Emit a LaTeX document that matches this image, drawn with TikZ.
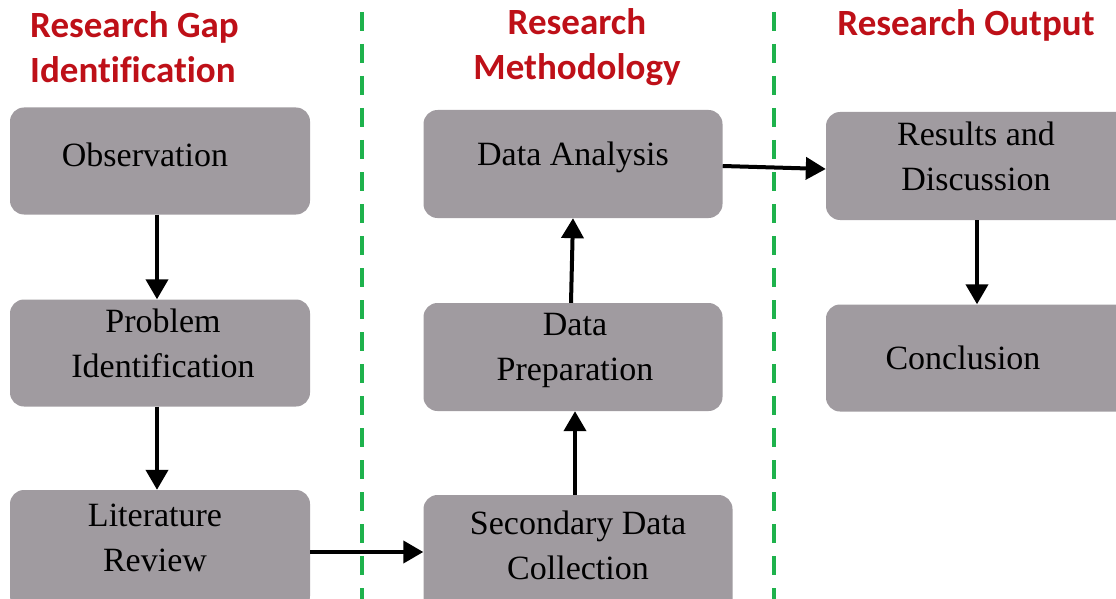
\documentclass[tikz,border=0pt]{standalone}
\usepackage{fontspec}
\setmainfont{Liberation Serif}
\newfontfamily\headfont[Ligatures=NoCommon]{Carlito}
\usetikzlibrary{arrows.meta}
\definecolor{boxgray}{RGB}{160,155,160}
\definecolor{headred}{RGB}{190,16,24}
\definecolor{divgreen}{RGB}{30,178,76}
\tikzset{
  stagebox/.style={fill=boxgray, rounded corners=14pt, inner sep=0pt},
  stagetext/.style={align=center, inner sep=0pt, font=\fontsize{34}{45}\selectfont, text=black},
  head/.style={font=\headfont\bfseries\fontsize{37}{45}\selectfont, text=headred, align=center, inner sep=0pt},
  flow/.style={line width=4pt, -{Triangle[length=20pt,width=22pt]}},
  divider/.style={divgreen, line width=4pt, dash pattern=on 19pt off 13pt}
}
\begin{document}
\begin{tikzpicture}[x=1pt,y=-1pt]
\useasboundingbox (0,0) rectangle (1116,599);
\clip (0,0) rectangle (1116,599);
% dividers
\coordinate (d1t) at (362,12); \coordinate (d1b) at (362,599);
\coordinate (d2t) at (774,12); \coordinate (d2b) at (774,599);
\draw[divider] (d1t) -- (d1b);
\draw[divider] (d2t) -- (d2b);
% headers
\node[head, align=left, anchor=west] (h1) at (30,47) {Research Gap\\Identification};
\node[head] (h2) at (577,47) {Research\\Methodology};
\node[head] (h3) at (966,25) {Research Output};
% boxes
\node[stagebox, minimum width=300pt, minimum height=107pt] (obs) at (160,161) {};
\node[stagebox, minimum width=300pt, minimum height=107pt] (prob) at (160,353) {};
\node[stagebox, minimum width=300pt, minimum height=120pt] (lit) at (160,550) {};
\node[stagebox, minimum width=299pt, minimum height=108pt] (ana) at (573,164) {};
\node[stagebox, minimum width=299pt, minimum height=108pt] (prep) at (573,357) {};
\node[stagebox, minimum width=309pt, minimum height=120pt] (sec) at (578,555) {};
\node[stagebox, minimum width=310pt, minimum height=108pt] (res) at (981,166) {};
\node[stagebox, minimum width=310pt, minimum height=107pt] (conc) at (981,358) {};
% texts
\node[stagetext] (obs-t) at (145,155) {Observation};
\node[stagetext] (prob-t) at (163,343) {Problem\\Identification};
\node[stagetext] (lit-t) at (155,538) {Literature\\Review};
\node[stagetext] (ana-t) at (573,157) {Data Analysis};
\node[stagetext] (prep-t) at (575,350) {Data\\Preparation};
\node[stagetext] (sec-t) at (578,545) {Secondary Data\\Collection};
\node[stagetext] (res-t) at (976,156) {Results and\\Discussion};
\node[stagetext] (conc-t) at (963,358) {Conclusion};
% arrows
\draw[flow] (obs.south -| 157,0) -- (prob.north -| 157,0);
\draw[flow] (prob.south -| 157,0) -- (lit.north -| 157,0);
\draw[flow] (lit.east |- 0,552) -- (sec.west |- 0,552);
\draw[flow] (sec.north -| 575,0) -- (prep.south -| 575,0);
\draw[flow] (prep.north -| 571,0) -- (ana.south -| 573,0);
\draw[flow] (ana.east |- 0,166) -- (res.west |- 0,169);
\draw[flow] (res.south -| 977,0) -- (conc.north -| 977,0);
\end{tikzpicture}
\end{document}
